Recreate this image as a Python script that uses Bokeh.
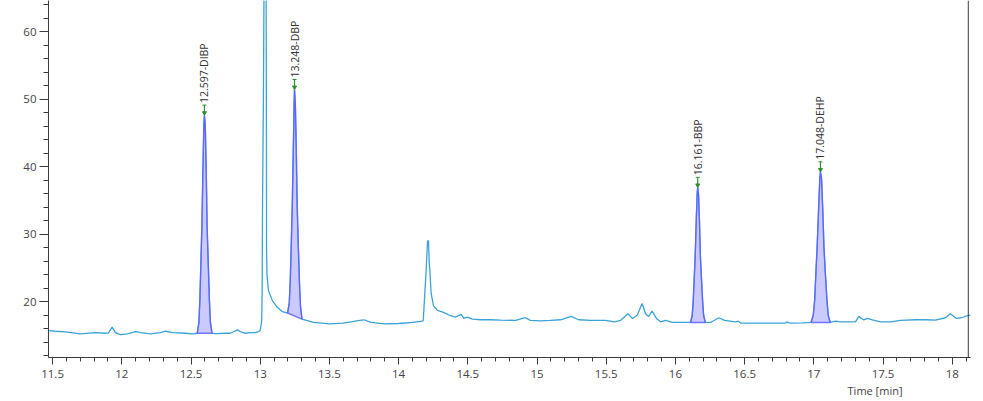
import numpy as np
from bokeh.plotting import figure
from bokeh.models import (Range1d, LinearAxis, FixedTicker, NumeralTickFormatter,
                          Span, Title, ColumnDataSource)
from bokeh.core.properties import value
from bokeh.embed import file_html
from bokeh.resources import INLINE

# ---------------- data ----------------
seg0_t = [11.47, 11.52, 11.593, 11.70, 11.81, 11.88, 11.904, 11.93, 11.954, 11.99, 12.04,
          12.10, 12.136, 12.207, 12.28, 12.316, 12.366, 12.46, 12.51]
seg0_v = [15.7, 15.6, 15.5, 15.2, 15.4, 15.3, 15.35, 16.2, 15.4, 15.1, 15.2,
          15.55, 15.4, 15.2, 15.4, 15.6, 15.4, 15.3, 15.2]

peak1_t = [12.545, 12.557, 12.564, 12.572, 12.579, 12.586, 12.593, 12.597, 12.603,
           12.610, 12.616, 12.624, 12.633, 12.640, 12.652]
peak1_v = [15.3, 16.9, 20.2, 26.1, 31.4, 39.4, 46.1, 47.6, 46.1, 39.4, 31.4, 26.1, 20.2, 16.9, 15.3]

seg1_t = [12.677, 12.749, 12.785, 12.836, 12.857, 12.893, 12.929, 12.965, 12.988]
seg1_v = [15.26, 15.3, 15.3, 15.8, 15.55, 15.3, 15.4, 15.4, 15.55]

big_t = [13.000, 13.011, 13.014, 13.017, 13.023, 13.027, 13.036, 13.043, 13.045, 13.046,
         13.049, 13.060, 13.089, 13.125, 13.161]
big_v = [15.7, 17.2, 21.6, 35.0, 49.8, 64.6, 86.0, 64.6, 45.0, 27.6, 23.9, 21.6, 20.1, 19.1, 18.5]

peak2_t = [13.198, 13.210, 13.217, 13.225, 13.232, 13.239, 13.245, 13.248, 13.254,
           13.261, 13.267, 13.275, 13.284, 13.291, 13.302]
peak2_v = [18.3, 19.8, 23.0, 28.9, 34.6, 42.3, 49.2, 51.4, 49.1, 42.1, 34.3, 28.5, 22.6, 19.3, 17.4]

seg2_t = [13.385, 13.5, 13.6, 13.72, 13.75, 13.8, 13.9, 14.0, 14.1, 14.13, 14.17]
seg2_v = [16.9, 16.7, 16.8, 17.2, 17.3, 16.9, 16.7, 16.75, 16.9, 17.0, 17.1]

seg3_t = [14.178, 14.187, 14.199, 14.209, 14.216, 14.221, 14.226, 14.235, 14.252, 14.281,
          14.324, 14.375, 14.41, 14.452, 14.471, 14.496, 14.534, 14.592, 14.664, 14.736,
          14.845, 14.915, 14.953, 15.025, 15.097, 15.17, 15.247, 15.3, 15.387, 15.495,
          15.56, 15.603, 15.656, 15.69, 15.725, 15.745, 15.76, 15.784, 15.806, 15.832,
          15.863, 15.892, 15.928, 15.98, 16.05]
seg3_v = [17.2, 20.4, 24.6, 29.0, 29.0, 25.8, 24.6, 21.2, 19.4, 18.7,
          18.4, 17.9, 17.7, 18.1, 17.5, 17.7, 17.4, 17.3, 17.3, 17.25,
          17.2, 17.6, 17.2, 17.15, 17.2, 17.3, 17.8, 17.3, 17.2, 17.2,
          17.0, 17.2, 18.2, 17.5, 18.0, 19.0, 19.7, 18.2, 17.8, 18.6,
          17.5, 17.0, 17.2, 16.9, 16.9]

peak3_t = [16.109, 16.121, 16.128, 16.136, 16.143, 16.150, 16.157, 16.161, 16.167,
           16.174, 16.180, 16.188, 16.197, 16.204, 16.216]
peak3_v = [16.9, 17.9, 19.9, 23.5, 26.9, 31.7, 35.9, 36.9, 35.9, 31.7, 26.9, 23.5, 19.9, 17.9, 16.9]

seg4_t = [16.235, 16.254, 16.314, 16.355, 16.434, 16.456, 16.47, 16.615, 16.795, 16.803, 16.83, 16.918]
seg4_v = [16.9, 16.9, 17.6, 17.2, 17.0, 17.1, 16.8, 16.8, 16.8, 17.0, 16.8, 16.85]

peak4_t = [16.980, 16.996, 17.006, 17.015, 17.024, 17.034, 17.043, 17.048, 17.056,
           17.065, 17.073, 17.083, 17.095, 17.104, 17.118]
peak4_v = [16.9, 18.0, 20.2, 24.3, 28.1, 33.4, 38.1, 39.2, 38.1, 33.4, 28.1, 24.3, 20.2, 18.0, 16.9]

seg5_t = [17.157, 17.193, 17.265, 17.301, 17.325, 17.359, 17.388, 17.424, 17.48, 17.553,
          17.627, 17.735, 17.807, 17.879, 17.951, 17.987, 18.031, 18.067, 18.11, 18.132]
seg5_v = [17.1, 17.0, 17.0, 17.0, 17.8, 17.3, 17.5, 17.3, 17.0, 17.0,
          17.2, 17.3, 17.3, 17.25, 17.6, 18.2, 17.5, 17.6, 17.9, 18.0]

peak_names = ["12.597-DIBP", "13.248-DBP", "16.161-BBP", "17.048-DEHP"]
peak_times = [12.597, 13.248, 16.161, 17.048]
peak_tops = [47.6, 51.4, 36.9, 39.2]

x_ticks = [11.5, 12, 12.5, 13, 13.5, 14, 14.5, 15, 15.5, 16, 16.5, 17, 17.5, 18]
y_ticks = [20, 30, 40, 50, 60]
x_label = "Time [min]"

# ---------------- assemble trace ----------------
trace_t = (seg0_t + peak1_t + seg1_t + big_t + peak2_t + seg2_t + seg3_t +
           peak3_t + seg4_t + peak4_t + seg5_t)
trace_v = (seg0_v + peak1_v + seg1_v + big_v + peak2_v + seg2_v + seg3_v +
           peak3_v + seg4_v + peak4_v + seg5_v)

FONT = "Open Sans"

p = figure(width=983, height=401, output_backend="svg", toolbar_location=None,
           x_range=Range1d(11.4704, 18.132), y_range=Range1d(11.71, 64.6),
           x_axis_type=None, y_axis_type=None,
           min_border_left=48, min_border_right=13, min_border_top=0, min_border_bottom=44)
p.outline_line_color = None
p.xgrid.visible = False
p.ygrid.visible = False
p.background_fill_color = "white"
p.border_fill_color = "white"

minor_x = [round(11.5 + 0.1 * i, 2) for i in range(0, 67)]
minor_y = list(range(12, 65, 2))

xaxis = LinearAxis(ticker=FixedTicker(ticks=x_ticks, minor_ticks=minor_x),
                   formatter=NumeralTickFormatter(format="0.[0]"))
yaxis = LinearAxis(ticker=FixedTicker(ticks=y_ticks, minor_ticks=minor_y),
                   formatter=NumeralTickFormatter(format="0.[0]"))
for ax in (xaxis, yaxis):
    ax.axis_line_color = "#3c3c3c"
    ax.major_tick_line_color = "#3c3c3c"
    ax.minor_tick_line_color = "#3c3c3c"
    ax.major_tick_in = 0
    ax.minor_tick_in = 0
    ax.major_label_text_font = FONT
    ax.major_label_text_font_size = "11.5px"
    ax.major_label_text_color = "#444444"
xaxis.major_tick_out = 7
xaxis.minor_tick_out = 4
xaxis.major_label_standoff = 5
yaxis.major_tick_out = 9
yaxis.minor_tick_out = 5
yaxis.major_label_standoff = 3
p.add_layout(xaxis, "below")
p.add_layout(yaxis, "left")

# axis title placed below the x axis, right-aligned under 17.5
p.add_layout(Title(text=x_label, align="right", offset=68, standoff=0,
                   text_font=FONT, text_font_size="11px", text_font_style="normal",
                   text_color="#444444"), "below")

p.add_layout(Span(location=18.116, dimension="height", line_color="#3c3c3c", line_width=1))

# trace
p.line(trace_t, trace_v, line_color="#3aa3da", line_width=1.3)

# integrated peaks
for pt, pv in ((peak1_t, peak1_v), (peak2_t, peak2_v), (peak3_t, peak3_v), (peak4_t, peak4_v)):
    p.patch(pt, pv, fill_color="#7a7aff", fill_alpha=0.4,
            line_color="#5f5fff", line_width=1.4, line_alpha=0.85)

# peak markers (green arrows) and labels
arrow_top = [v + 1.5 for v in peak_tops]
p.segment(x0=peak_times, y0=arrow_top, x1=peak_times, y1=peak_tops,
          line_color="#2f8f2f", line_width=1.2)
p.scatter(x=peak_times, y=[v + 0.35 for v in peak_tops], marker="inverted_triangle",
          size=4, fill_color="#2f8f2f", line_color="#2f8f2f")
p.scatter(x=peak_times, y=arrow_top, marker="dash", size=4, line_color="#2f8f2f")

src = ColumnDataSource(dict(x=peak_times, y=arrow_top, text=peak_names))
p.text(x="x", y="y", text="text", source=src, angle=np.pi / 2,
       text_align="left", text_baseline="middle", y_offset=-2,
       text_font=value(FONT), text_font_size="10.5px", text_color="#333333")

open("out.html", "w").write(file_html(p, INLINE))
